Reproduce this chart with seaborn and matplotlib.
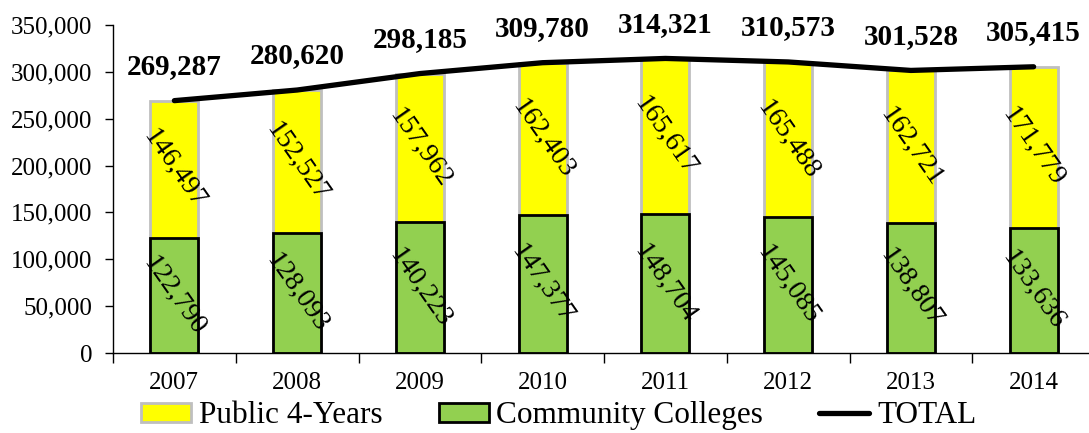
import numpy as np
import pandas as pd
import matplotlib
matplotlib.use("Agg")
import matplotlib.pyplot as plt
import seaborn as sns
from matplotlib.ticker import FuncFormatter, FixedLocator
from matplotlib.patches import Patch
from matplotlib.lines import Line2D

years = ["2007", "2008", "2009", "2010", "2011", "2012", "2013", "2014"]
community = [122790, 128093, 140223, 147377, 148704, 145085, 138807, 133636]
public4 = [146497, 152527, 157962, 162403, 165617, 165488, 162721, 171779]
total = [269287, 280620, 298185, 309780, 314321, 310573, 301528, 305415]

sns.set_theme(style="ticks")
plt.rcParams['font.family'] = ['Liberation Serif', 'DejaVu Serif']
plt.rcParams['text.color'] = 'black'
plt.rcParams['xtick.color'] = 'black'
plt.rcParams['ytick.color'] = 'black'
plt.rcParams['axes.labelcolor'] = 'black'

df = pd.DataFrame({"year": years, "cc": community, "p4": public4, "total": total})
df["stack"] = df["cc"] + df["p4"]

fig = plt.figure(figsize=(10.89, 4.33), dpi=100)
ax = fig.add_axes([113/1089, 1-353/433, (1095-113)/1089, (353-25)/433])

YELLOW = "#FFFF00"
GREEN = "#92D050"

sns.barplot(data=df, x="year", y="stack", color=YELLOW, saturation=1, width=0.39,
            edgecolor="#BFBFBF", linewidth=2, ax=ax)
sns.barplot(data=df, x="year", y="cc", color=GREEN, saturation=1, width=0.39,
            edgecolor="black", linewidth=2, ax=ax)
sns.lineplot(x=np.arange(len(years)), y=df["total"], color="black", linewidth=3.8,
             ax=ax, solid_capstyle="round")

for i in range(len(years)):
    ax.text(i, community[i] / 2, f"{community[i]:,}", rotation=-55, ha="center", va="center",
            fontsize=20, rotation_mode="anchor", color="black")
    ax.text(i, community[i] + public4[i] / 2, f"{public4[i]:,}", rotation=-55, ha="center",
            va="center", fontsize=20, rotation_mode="anchor", color="black")
    ax.annotate(f"{total[i]:,}", (i, total[i]), xytext=(0, 24.5), textcoords="offset points",
                ha="center", va="center", fontsize=21, fontweight="bold", color="black")

ax.set_xlim(-0.5, len(years) - 0.5)
ax.set_ylim(0, 350000)
ax.yaxis.set_major_locator(FixedLocator(np.arange(0, 350001, 50000)))
ax.yaxis.set_major_formatter(FuncFormatter(lambda v, p: f"{int(v):,}"))
ax.set_xticks(np.arange(len(years)))
ax.set_xticklabels(years)
ax.set_xticks(np.arange(-0.5, len(years), 1), minor=True)
ax.tick_params(axis="x", which="major", length=0, labelsize=18, pad=14)
ax.tick_params(axis="x", which="minor", length=7, width=1, color="black", direction="out")
ax.tick_params(axis="y", which="major", length=6, width=1, color="black", labelsize=18, pad=9)
ax.set_xlabel("")
ax.set_ylabel("")
for s in ["top", "right"]:
    ax.spines[s].set_visible(False)
for s in ["left", "bottom"]:
    ax.spines[s].set_color("black")
    ax.spines[s].set_linewidth(1)
ax.spines["bottom"].set_zorder(5)

handles = [
    Patch(facecolor=YELLOW, edgecolor="#BFBFBF", linewidth=2, label="Public 4-Years"),
    Patch(facecolor=GREEN, edgecolor="black", linewidth=2, label="Community Colleges"),
    Line2D([0], [0], color="black", linewidth=3.8, label="TOTAL"),
]
fig.legend(handles=handles, loc="center", bbox_to_anchor=(0.513, 0.04), ncol=3,
           frameon=False, fontsize=22.5, handlelength=1.6, handleheight=0.55,
           handletextpad=0.25, columnspacing=1.8, borderpad=0)

fig.savefig("out.png", dpi=100)
